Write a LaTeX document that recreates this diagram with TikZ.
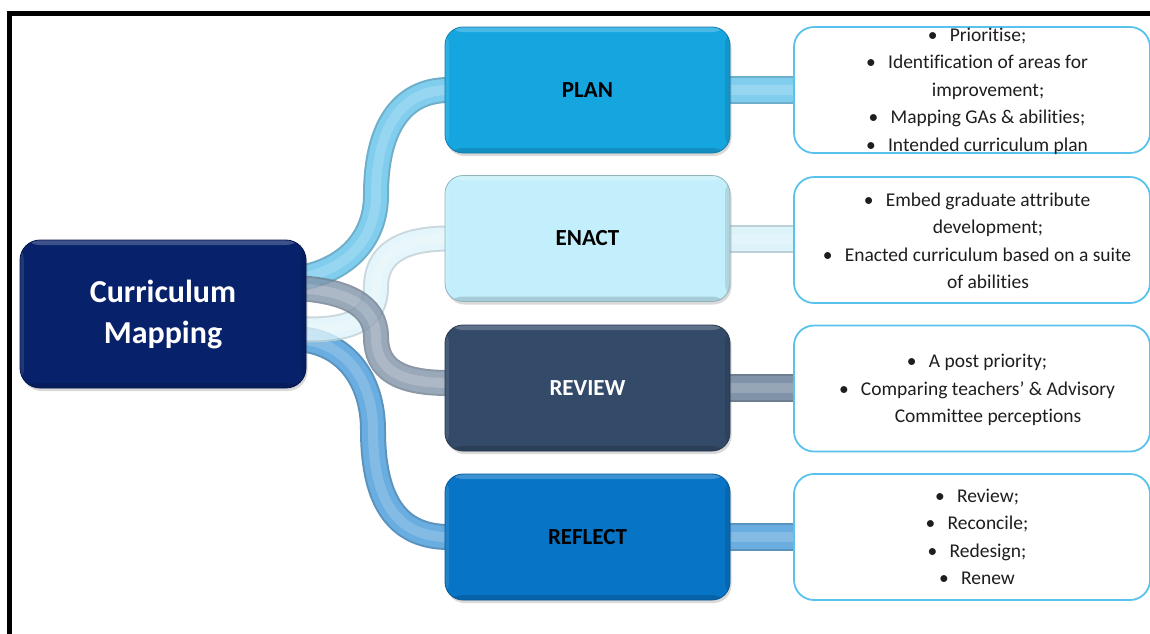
\documentclass[tikz,border=0pt]{standalone}
\usepackage{fontspec}
\setmainfont{Carlito}[Ligatures=NoCommon]
\usetikzlibrary{shadows,backgrounds}

\definecolor{navyC}{HTML}{07216A}
\definecolor{planC}{HTML}{15A6DF}
\definecolor{enactC}{HTML}{C2EFFB}
\definecolor{reviewC}{HTML}{334A68}
\definecolor{reflectC}{HTML}{0774C6}
\definecolor{detC}{HTML}{58C2EC}
\definecolor{tubeP}{HTML}{80CDED}
\definecolor{tubeE}{HTML}{DDF3FA}
\definecolor{tubeR}{HTML}{8193A8}
\definecolor{tubeF}{HTML}{6AADE0}
\definecolor{textC}{HTML}{1E1E1E}

% bullet with a fixed gap, and the matching hanging indent
\newcommand\bul{\makebox[22pt][l]{•}}
\newcommand\ind{\hspace*{22pt}}

\tikzset{
  bevel/.style={path picture={
    \fill[white,opacity=.22] (path picture bounding box.north west) rectangle ([yshift=-5pt]path picture bounding box.north east);
    \fill[black,opacity=.14] (path picture bounding box.south west) rectangle ([yshift=5pt]path picture bounding box.south east);
    \fill[black,opacity=.10] (path picture bounding box.north east) rectangle ([xshift=-5pt]path picture bounding box.south east);
    \fill[white,opacity=.10] (path picture bounding box.north west) rectangle ([xshift=4pt]path picture bounding box.south west);
  }},
  cmbox/.style={fill=navyC, draw=navyC!70!black, line width=.8pt, rounded corners=20pt,
    minimum width=286pt, minimum height=148pt, inner sep=0pt, text=white, align=center,
    font=\fontsize{32}{41}\selectfont\bfseries, bevel,
    drop shadow={shadow xshift=1.5pt, shadow yshift=-3pt, opacity=.3}},
  stepbox/.style={fill=#1, draw=#1!75!black, line width=.8pt, rounded corners=18pt,
    minimum width=285pt, minimum height=126pt, inner sep=0pt,
    font=\fontsize{23}{27}\selectfont\bfseries, bevel,
    drop shadow={shadow xshift=1.5pt, shadow yshift=-3pt, opacity=.3}},
  detbox/.style={fill=white, draw=detC, line width=1.8pt, rounded corners=20pt,
    minimum width=356pt, minimum height=126pt, inner sep=0pt},
  dettext/.style={align=center, inner sep=0pt, text=textC,
    font=\fontsize{19.5}{27.5}\selectfont},
  tube/.style={draw=#1, line width=22pt, line cap=butt,
    preaction={draw=#1!85!black, line width=26pt},
    postaction={draw=white, opacity=.18, line width=10pt}},
  bar/.style={draw=#1, line width=24pt, line cap=butt,
    preaction={draw=#1!85!black, line width=28pt},
    postaction={draw=white, opacity=.18, line width=10pt}},
}

\begin{document}
\begin{tikzpicture}[x=1pt, y=-1pt]
\useasboundingbox (0,0) rectangle (1150,633);
\clip (0,0) rectangle (1150,633);

% frame
\draw[line width=5pt] (9.5,640) -- (9.5,13.5) -- (1160,13.5);

% main boxes
\node[cmbox] (cm) at (163,314) {Curriculum\\Mapping};
\node[stepbox=planC]    (plan)    at (587.5,90)  {PLAN};
\node[stepbox=enactC]   (enact)   at (587.5,238.5) {ENACT};
\node[stepbox=reviewC, text=white] (review) at (587.5,388) {REVIEW};
\node[stepbox=reflectC] (reflect) at (587.5,537) {REFLECT};

% detail boxes
\node[detbox] (d1) at (972,90) {};
\node[detbox] (d2) at (972,240) {};
\node[detbox] (d3) at (972,388.5) {};
\node[detbox] (d4) at (972,537) {};

\node[dettext] (t1) at (977,91) {\bul Prioritise;\\ \bul Identification of areas for\\ \ind improvement;\\ \bul Mapping GAs \& abilities;\\ \bul Intended curriculum plan};
\node[dettext] (t2) at (977,241) {\bul Embed graduate attribute\\ \ind development;\\ \bul Enacted curriculum based on a suite\\ \ind of abilities};
\node[dettext] (t3) at (977,390) {\bul A post priority;\\ \bul Comparing teachers’ \& Advisory\\ \ind Committee perceptions};
\node[dettext] (t4) at (977,537) {\bul Review;\\ \bul Reconcile;\\ \bul Redesign;\\ \bul Renew};

% connectors, beneath the boxes
\begin{pgfonlayer}{background}
  \draw[tube=tubeP] ([shift={(-12,-35)}]cm.east) .. controls (345,272) and (376,240) .. (376,195)
        .. controls (376,130) and (400,90) .. ([xshift=4pt]plan.west);
  \draw[tube=tubeF] ([shift={(-12,25)}]cm.east) .. controls (345,340) and (373,380) .. (373,430)
        .. controls (373,505) and (400,537) .. ([xshift=4pt]reflect.west);
  \begin{scope}[transparency group, opacity=.8]
    \draw[tube=tubeE] ([shift={(-12,15)}]cm.east) .. controls (350,332) and (376,320) .. (376,287)
          .. controls (376,255) and (400,238.5) .. ([xshift=4pt]enact.west);
  \end{scope}
  \begin{scope}[transparency group, opacity=.8]
    \draw[tube=tubeR] ([shift={(-12,-26)}]cm.east) .. controls (345,290) and (376,305) .. (376,337)
          .. controls (376,370) and (400,383) .. ([shift={(4,-5)}]review.west);
  \end{scope}
  \draw[bar=tubeP] ([xshift=-4pt]plan.east) -- ([xshift=4pt]d1.west |- plan.east);
  \draw[bar=tubeE] ([xshift=-4pt]enact.east) -- ([xshift=4pt]d2.west |- enact.east);
  \draw[bar=tubeR] ([xshift=-4pt]review.east) -- ([xshift=4pt]d3.west |- review.east);
  \draw[bar=tubeF] ([xshift=-4pt]reflect.east) -- ([xshift=4pt]d4.west |- reflect.east);
\end{pgfonlayer}
\end{tikzpicture}
\end{document}
